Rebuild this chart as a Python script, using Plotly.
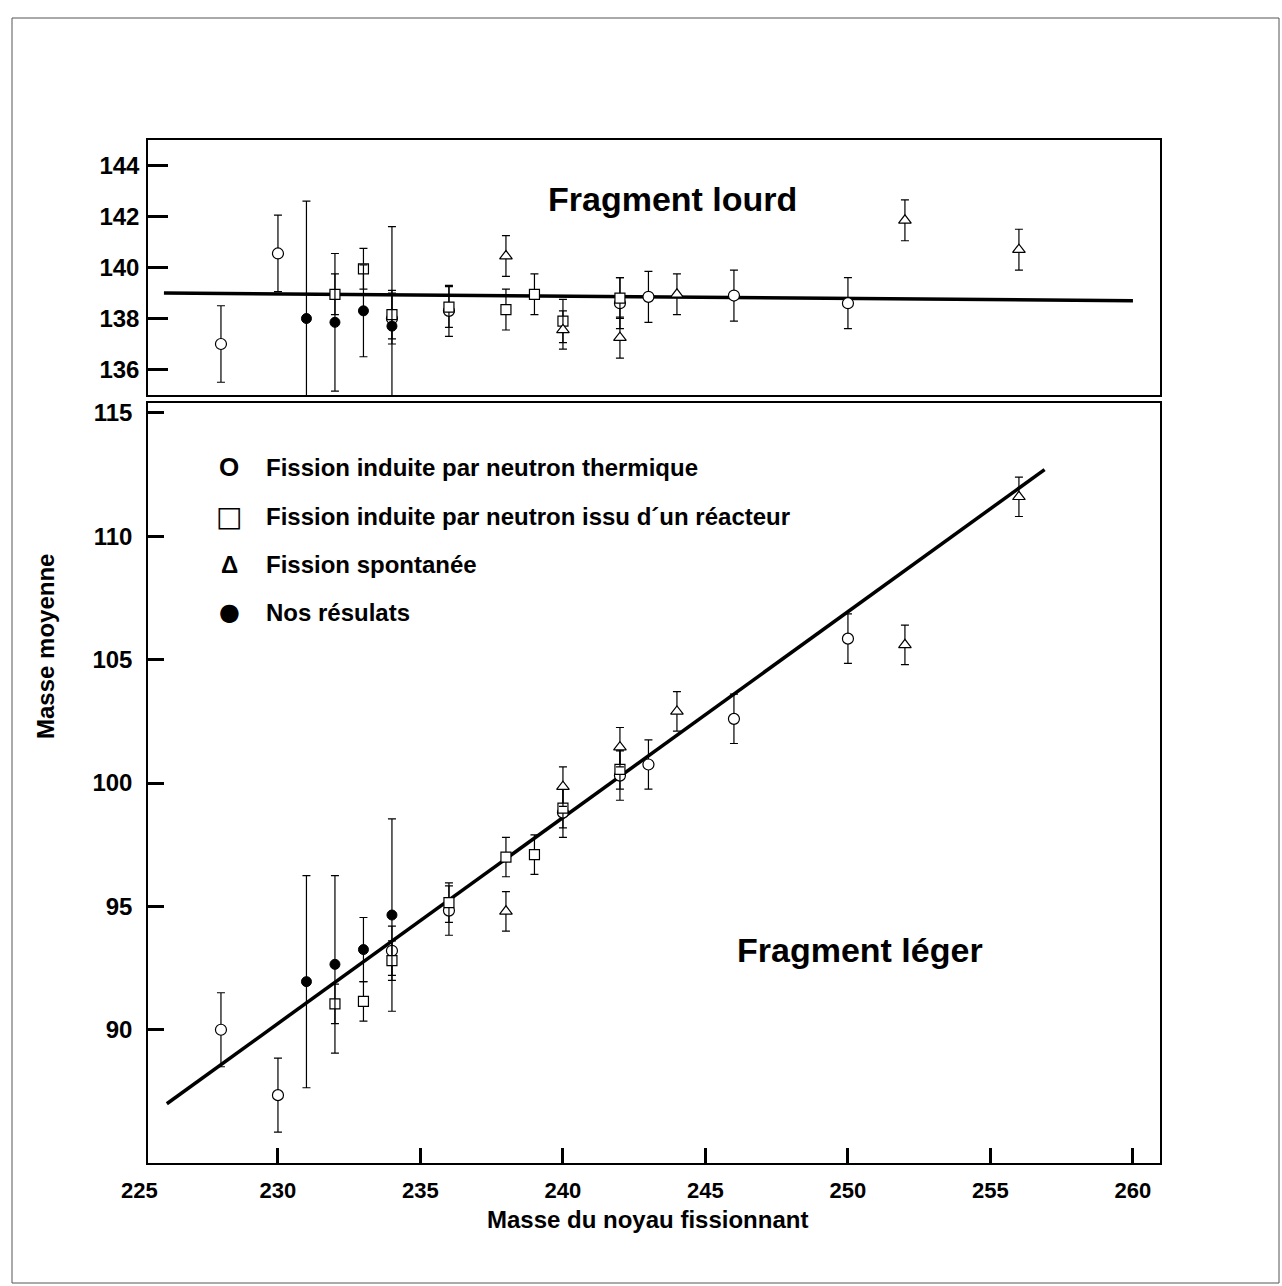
import plotly.graph_objects as go

# ---------------- data ----------------
# Heavy fragment (top panel)
heavy_thermal_x = [228, 230, 234, 236, 242, 243, 246, 250]
heavy_thermal_y = [137.0, 140.55, 138.0, 138.3, 138.6, 138.85, 138.9, 138.6]
heavy_thermal_e = [1.5, 1.5, 1.0, 1.0, 1.0, 1.0, 1.0, 1.0]

heavy_reactor_x = [232, 233, 234, 236, 238, 239, 240, 242]
heavy_reactor_y = [138.95, 139.95, 138.15, 138.45, 138.35, 138.95, 137.9, 138.8]
heavy_reactor_e = [0.8, 0.8, 0.95, 0.8, 0.8, 0.8, 0.85, 0.8]

heavy_spont_x = [238, 240, 242, 244, 252, 256]
heavy_spont_y = [140.45, 137.55, 137.25, 138.95, 141.85, 140.7]
heavy_spont_e = [0.8, 0.75, 0.8, 0.8, 0.8, 0.8]

heavy_ours_x = [231, 232, 233, 234]
heavy_ours_y = [138.0, 137.85, 138.3, 137.7]
heavy_ours_e = [4.6, 2.7, 1.8, 3.9]

heavy_fit_x = [226.0, 260.0]
heavy_fit_y = [139.0, 138.7]

# Light fragment (bottom panel)
light_thermal_x = [228, 230, 234, 236, 240, 242, 243, 246, 250]
light_thermal_y = [90.0, 87.35, 93.2, 94.83, 98.8, 100.3, 100.75, 102.6, 105.85]
light_thermal_e = [1.5, 1.5, 1.0, 1.0, 1.0, 1.0, 1.0, 1.0, 1.0]

light_reactor_x = [232, 233, 234, 236, 238, 239, 240, 242]
light_reactor_y = [91.05, 91.15, 92.8, 95.15, 97.0, 97.1, 98.98, 100.55]
light_reactor_e = [0.8, 0.8, 0.8, 0.8, 0.8, 0.8, 0.8, 0.8]

light_spont_x = [238, 240, 242, 244, 252, 256]
light_spont_y = [94.8, 99.85, 101.45, 102.9, 105.6, 111.6]
light_spont_e = [0.8, 0.8, 0.8, 0.8, 0.8, 0.8]

light_ours_x = [231, 232, 233, 234]
light_ours_y = [91.95, 92.65, 93.25, 94.65]
light_ours_e = [4.3, 3.6, 1.3, 3.9]

light_fit_x = [226.1, 256.9]
light_fit_y = [87.0, 112.7]

x_ticks = [230, 235, 240, 245, 250, 255, 260]
heavy_ticks = [136, 138, 140, 142, 144]
light_ticks = [90, 95, 100, 105, 110, 115]

legend_labels = [
    "Fission induite par neutron thermique",
    "Fission induite par neutron issu d\u00b4un r\u00e9acteur",
    "Fission spontan\u00e9e",
    "Nos r\u00e9sulats",
]
legend_glyphs = ["O", "\u25a1", "\u0394", "\u25cf"]

# ---------------- figure ----------------
W, H = 1282, 1286
L, R, T, B = 148, 122, 140, 123
pw, ph = W - L - R, H - T - B

def px_x(p):
    return (p - L) / pw

def px_y(p):
    return (H - B - p) / ph

BOLD = "Liberation Sans, Arial, sans-serif"

fig = go.Figure()

def eb(arr):
    return dict(type="data", array=arr, visible=True, color="black", thickness=1.2, width=4)

def add_panel(xa, ya, fx, fy, tx, ty, te, rx, ry, re_, sx, sy, se, ox, oy, oe):
    fig.add_trace(go.Scatter(x=fx, y=fy, mode="lines", line=dict(color="black", width=3.5),
                             xaxis=xa, yaxis=ya, showlegend=False, hoverinfo="skip"))
    fig.add_trace(go.Scatter(x=tx, y=ty, mode="markers", error_y=eb(te), xaxis=xa, yaxis=ya,
                             marker=dict(symbol="circle", size=11, color="white",
                                         line=dict(color="black", width=1.2)),
                             name=legend_labels[0], showlegend=False))
    fig.add_trace(go.Scatter(x=rx, y=ry, mode="markers", error_y=eb(re_), xaxis=xa, yaxis=ya,
                             marker=dict(symbol="square", size=10, color="white",
                                         line=dict(color="black", width=1.2)),
                             name=legend_labels[1], showlegend=False))
    fig.add_trace(go.Scatter(x=sx, y=sy, mode="markers", error_y=eb(se), xaxis=xa, yaxis=ya,
                             marker=dict(symbol="triangle-up", size=11, color="white",
                                         line=dict(color="black", width=1.2)),
                             name=legend_labels[2], showlegend=False))
    fig.add_trace(go.Scatter(x=ox, y=oy, mode="markers", error_y=eb(oe), xaxis=xa, yaxis=ya,
                             marker=dict(symbol="circle", size=10, color="black",
                                         line=dict(color="black", width=1)),
                             name=legend_labels[3], showlegend=False))

add_panel("x", "y", heavy_fit_x, heavy_fit_y,
          heavy_thermal_x, heavy_thermal_y, heavy_thermal_e,
          heavy_reactor_x, heavy_reactor_y, heavy_reactor_e,
          heavy_spont_x, heavy_spont_y, heavy_spont_e,
          heavy_ours_x, heavy_ours_y, heavy_ours_e)
add_panel("x2", "y2", light_fit_x, light_fit_y,
          light_thermal_x, light_thermal_y, light_thermal_e,
          light_reactor_x, light_reactor_y, light_reactor_e,
          light_spont_x, light_spont_y, light_spont_e,
          light_ours_x, light_ours_y, light_ours_e)

xr = [225.44, 260.95]
top_dom = [px_y(395), 1.0]
bot_dom = [0.0, px_y(403)]

common_line = dict(showline=True, linecolor="black", linewidth=1.5, mirror=True,
                   showgrid=False, zeroline=False)

fig.update_layout(
    width=W, height=H,
    margin=dict(l=L, r=R, t=T, b=B),
    paper_bgcolor="white", plot_bgcolor="white",
    showlegend=False,
    xaxis=dict(range=xr, anchor="y", domain=[0, 1], showticklabels=False, ticks="",
               **common_line),
    yaxis=dict(range=[135, 145], domain=top_dom, anchor="x", tickvals=heavy_ticks,
               ticks="inside", ticklen=20, tickwidth=3, tickcolor="black",
               ticklabelstandoff=2,
               tickfont=dict(family=BOLD, size=24, color="black", weight="bold"),
               **common_line),
    xaxis2=dict(range=xr, anchor="y2", domain=[0, 1], tickvals=x_ticks,
                ticks="inside", ticklen=15, tickwidth=3, tickcolor="black",
                ticklabelstandoff=7,
                tickfont=dict(family=BOLD, size=22, color="black", weight="bold"),
                **common_line),
    yaxis2=dict(range=[84.6, 115.4], domain=bot_dom, anchor="x2", tickvals=light_ticks,
                ticks="inside", ticklen=16, tickwidth=3, tickcolor="black",
                ticklabelstandoff=9,
                tickfont=dict(family=BOLD, size=24, color="black", weight="bold"),
                **common_line),
)

ann = []
# "225" tick label (outside the axis range)
ann.append(dict(x=px_x(139), y=px_y(1190), xref="paper", yref="paper", text="225",
                showarrow=False, xanchor="center", yanchor="middle",
                font=dict(family=BOLD, size=22, color="black", weight="bold")))
# axis titles
ann.append(dict(x=px_x(647), y=px_y(1219), xref="paper", yref="paper",
                text="Masse du noyau fissionnant", showarrow=False,
                xanchor="center", yanchor="middle",
                font=dict(family=BOLD, size=24, color="black", weight="bold")))
ann.append(dict(x=px_x(45), y=px_y(647), xref="paper", yref="paper",
                text="Masse moyenne", showarrow=False, textangle=-90,
                xanchor="center", yanchor="middle",
                font=dict(family=BOLD, size=24, color="black", weight="bold")))
# panel titles
ann.append(dict(x=px_x(672), y=px_y(199), xref="paper", yref="paper",
                text="Fragment lourd", showarrow=False, xanchor="center", yanchor="middle",
                font=dict(family=BOLD, size=34, color="black", weight="bold")))
ann.append(dict(x=px_x(860), y=px_y(950), xref="paper", yref="paper",
                text="Fragment l\u00e9ger", showarrow=False, xanchor="center", yanchor="middle",
                font=dict(family=BOLD, size=34, color="black", weight="bold")))
# legend
rows = [467, 516, 564, 612]
glyph_fonts = [BOLD, "DejaVu Sans, sans-serif", BOLD, "DejaVu Sans, sans-serif"]
glyph_sizes = [26, 28, 24, 24]
for gy, lab, gl, gf, gs in zip(rows, legend_labels, legend_glyphs, glyph_fonts, glyph_sizes):
    ann.append(dict(x=px_x(229), y=px_y(gy), xref="paper", yref="paper", text=gl,
                    showarrow=False, xanchor="center", yanchor="middle",
                    font=dict(family=gf, size=gs, color="black", weight="bold")))
    ann.append(dict(x=px_x(264), y=px_y(gy), xref="paper", yref="paper", text=lab,
                    showarrow=False, xanchor="left", yanchor="middle",
                    font=dict(family=BOLD, size=24, color="black", weight="bold")))
fig.update_layout(annotations=ann)

# page border of the scanned sheet
fig.add_shape(type="rect", xref="paper", yref="paper",
              x0=px_x(12), x1=px_x(1279), y0=px_y(1283), y1=px_y(18),
              line=dict(color="#555555", width=1), fillcolor="rgba(0,0,0,0)", layer="below")

fig.write_html(
    "out.html",
    config={"displayModeBar": False},
    post_script="document.body.style.margin='0px';document.body.style.padding='0px';"
                "document.body.style.overflow='hidden';",
)
